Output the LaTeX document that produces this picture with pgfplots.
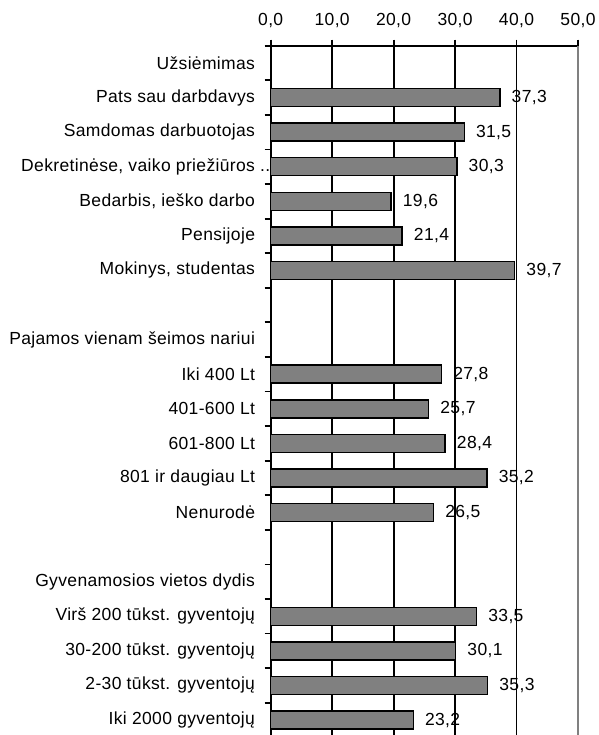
\documentclass[border=0pt]{standalone}
\usepackage{pgfplots}
\pgfplotsset{compat=1.18}
\usepackage{pgfplotstable}
\usepackage{fontspec}
\setmainfont{Liberation Sans}[LetterSpace=2]
\newcommand\lf{\fontsize{17.5pt}{20pt}\selectfont}
\definecolor{barg}{HTML}{808080}

\pgfplotstableread{
y v
1 37.3
2 31.5
3 30.3
4 19.6
5 21.4
6 39.7
9 27.8
10 25.7
11 28.4
12 35.2
13 26.5
16 33.5
17 30.1
18 35.3
19 23.2
}\datatable

\begin{document}
\begin{tikzpicture}
\begin{axis}[
  at={(270.7pt,-2.3pt)}, anchor=south west,
  width=307.3pt, height=691.6pt, scale only axis,
  xbar, bar width=18pt,
  xmin=0, xmax=50,
  ymin=-0.5, ymax=19.5, y dir=reverse,
  axis x line*=top, axis y line*=left,
  axis line style={line width=1.8pt, black},
  /pgf/number format/assume math mode=true,
  xticklabel={\pgfmathprintnumber[fixed,precision=1,zerofill,use comma]{\tick}},
  xtick={0,10,20,30,40},
  extra x ticks={50},
  extra x tick style={grid=major, major grid style={draw=barg, line width=2pt}},
  xmajorgrids, major grid style={draw=black, line width=1.8pt},
  ytick={-0.5,0.5,...,19.5}, yticklabels={},
  extra y ticks={0,1,...,19},
  extra y tick labels={Užsiėmimas,Pats sau darbdavys,Samdomas darbuotojas,{Dekretinėse, vaiko priežiūros\rlap{ ..}},{Bedarbis, ieško darbo},Pensijoje,{Mokinys, studentas},{},Pajamos vienam šeimos nariui,Iki 400 Lt,401-600 Lt,601-800 Lt,801 ir daugiau Lt,Nenurodė,{},Gyvenamosios vietos dydis,Virš 200 tūkst. gyventojų,30-200 tūkst. gyventojų,2-30 tūkst. gyventojų,Iki 2000 gyventojų},
  extra y tick style={grid=none, major tick length=0pt, yticklabel style={inner sep=0pt, xshift=-15.5pt}},
  tick align=outside, major tick length=6pt,
  tick style={black, line width=1.8pt},
  tick label style={font=\lf, black},
  xticklabel style={inner sep=0pt, yshift=12pt},
  point meta=x,
  nodes near coords={\pgfmathprintnumber[fixed,precision=1,zerofill,use comma]{\pgfplotspointmeta}},
  every node near coord/.append style={font=\lf, black, anchor=west, inner sep=0pt, xshift=11pt},
  clip=false,
]
\addplot[fill=barg, draw=black, line width=1.5pt] table[x=v, y=y] {\datatable};
\end{axis}
\pgfresetboundingbox
\path[use as bounding box] (0,0) rectangle (598pt,735pt);
\end{tikzpicture}
\end{document}
